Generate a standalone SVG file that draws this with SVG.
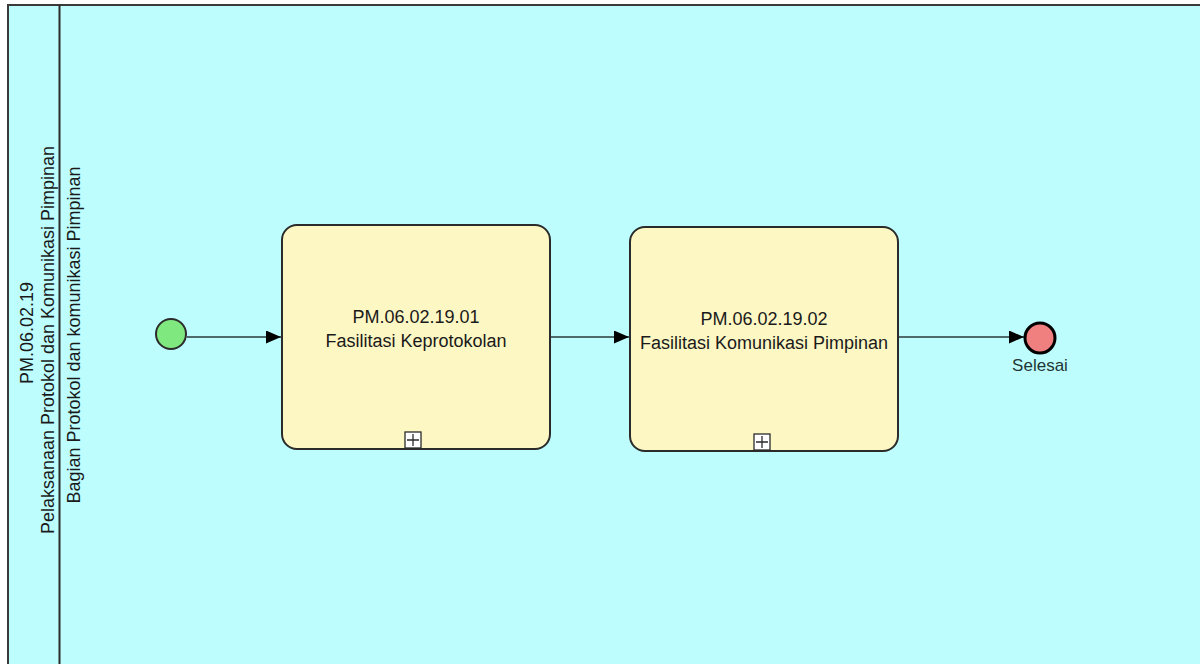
<svg xmlns="http://www.w3.org/2000/svg" width="1200" height="664" viewBox="0 0 1200 664">
  <defs>
    <style>
      .lbl { font-family: "Liberation Sans", Arial, sans-serif; font-size: 18px; fill: #1a1a1a; text-anchor: middle; }
      .task { fill: #fdf7c3; stroke: #2b2b2b; stroke-width: 2; }
      .flow { fill: none; stroke: #2a3838; stroke-width: 1.5; marker-end: url(#arrow); }
      .plus { fill: #ffffff; stroke: #2b2b2b; stroke-width: 1.3; }
    </style>
    <marker id="arrow" viewBox="0 0 15 13" refX="15" refY="6.5" markerWidth="15" markerHeight="13" markerUnits="userSpaceOnUse" orient="auto">
      <path d="M0,0 L15,6.5 L0,13 Z" fill="#000000"/>
    </marker>
  </defs>

  <rect x="0" y="0" width="1200" height="664" fill="#ffffff"/>

  <g id="pool">
    <rect x="8" y="5" width="1200" height="670" fill="#bdfdfd" stroke="#3a3a3a" stroke-width="2"/>
    <line x1="59.5" y1="5" x2="59.5" y2="664" stroke="#2b2b2b" stroke-width="2"/>
    <text class="lbl" transform="translate(33,333) rotate(-90)">PM.06.02.19</text>
    <text class="lbl" transform="translate(54,340) rotate(-90)">Pelaksanaan Protokol dan Komunikasi Pimpinan</text>
  </g>

  <g id="lane">
    <text class="lbl" transform="translate(80,335) rotate(-90)">Bagian Protokol dan komunikasi Pimpinan</text>
  </g>

  <g id="connectors">
    <line class="flow" x1="187" y1="337" x2="281" y2="337"/>
    <line class="flow" x1="551" y1="337" x2="629" y2="337"/>
    <line class="flow" x1="899" y1="337" x2="1024" y2="337"/>
  </g>

  <g id="start">
    <circle cx="171" cy="334" r="15" fill="#7fe87f" stroke="#2b2b2b" stroke-width="2"/>
  </g>

  <g id="task1">
    <rect class="task" x="282" y="225" width="268" height="224" rx="15" ry="15"/>
    <text class="lbl" x="416" y="323">PM.06.02.19.01</text>
    <text class="lbl" x="416" y="347">Fasilitasi Keprotokolan</text>
    <rect class="plus" x="405" y="432" width="16" height="16"/>
    <path d="M413,434 V446 M407,440 H419" stroke="#2b2b2b" stroke-width="1.3"/>
  </g>

  <g id="task2">
    <rect class="task" x="630" y="227" width="268" height="224" rx="15" ry="15"/>
    <text class="lbl" x="764" y="325">PM.06.02.19.02</text>
    <text class="lbl" x="764" y="349">Fasilitasi Komunikasi Pimpinan</text>
    <rect class="plus" x="754" y="434" width="16" height="16"/>
    <path d="M762,436 V448 M756,442 H768" stroke="#2b2b2b" stroke-width="1.3"/>
  </g>

  <g id="end">
    <circle cx="1040" cy="338" r="15" fill="#f08080" stroke="#000000" stroke-width="3"/>
    <text x="1040" y="371" text-anchor="middle" font-family="'Liberation Sans', Arial, sans-serif" font-size="17" fill="#1f3535">Selesai</text>
  </g>
</svg>
